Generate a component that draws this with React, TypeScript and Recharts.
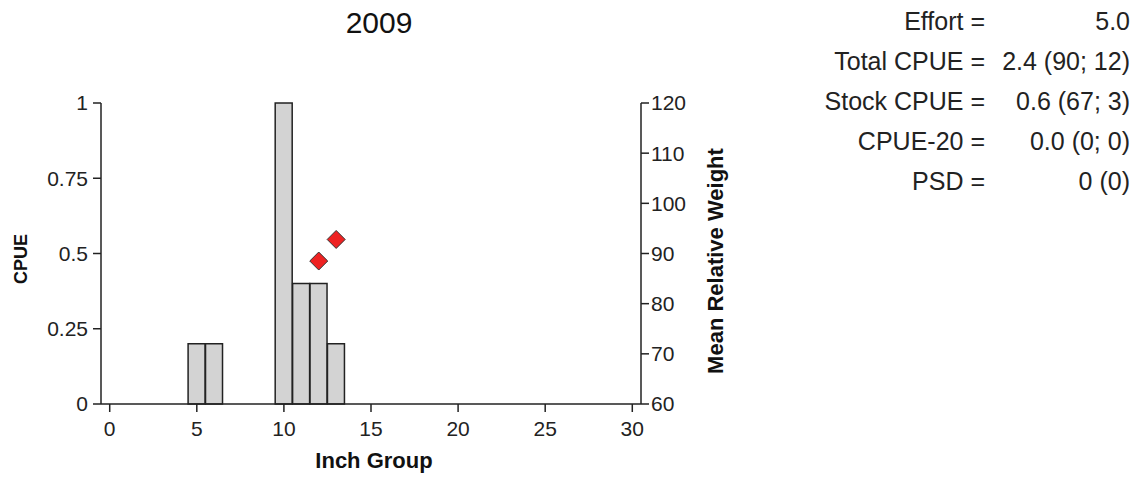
import {
  ComposedChart,
  Bar,
  Scatter,
  XAxis,
  YAxis,
} from "recharts";

const inchGroups = [5, 6, 10, 11, 12, 13];
const cpueValues = [0.2, 0.2, 1, 0.4, 0.4, 0.2];

const weightInches = [12, 13];
const weightValues = [88.5, 92.8];

const xTicks = [0, 5, 10, 15, 20, 25, 30];
const cpueTicks = [0, 0.25, 0.5, 0.75, 1];
const weightTicks = [60, 70, 80, 90, 100, 110, 120];

const statLabels = ["Effort =", "Total CPUE =", "Stock CPUE =", "CPUE-20 =", "PSD ="];
const statValues = ["5.0", "2.4 (90; 12)", "0.6 (67; 3)", "0.0 (0; 0)", "0 (0)"];

const FONT = '"Liberation Sans", Arial, sans-serif';

const barData = inchGroups.map((inch, i) => ({ inch, cpue: cpueValues[i] }));
const weightData = weightInches.map((inch, i) => ({ inch, weight: weightValues[i] }));

// square diamond marker, like the original plot
const Diamond = (props: any) => {
  const { cx, cy } = props;
  const r = 9;
  return (
    <polygon
      points={`${cx},${cy - r} ${cx + r},${cy} ${cx},${cy + r} ${cx - r},${cy}`}
      fill="#ee2222"
      stroke="#333"
      strokeWidth={1}
    />
  );
};

export default function App() {
  const tickStyle = { fontSize: 21, fill: "#222", fontFamily: FONT };

  return (
    <div
      style={{
        position: "absolute",
        left: 0,
        top: 0,
        width: 1140,
        height: 478,
        background: "#fff",
        fontFamily: FONT,
      }}
    >
      <div style={{ position: "absolute", left: 0, top: 0 }}>
        <ComposedChart
          width={760}
          height={478}
          data={barData}
          margin={{ top: 103, right: 59, bottom: 34, left: 41 }}
          barCategoryGap={0}
          barGap={0}
        >
          <XAxis
            xAxisId="x"
            type="number"
            dataKey="inch"
            domain={[-0.5, 30.5]}
            ticks={xTicks}
            height={40}
            tickSize={8}
            tickMargin={9}
            stroke="#222"
            strokeWidth={1.5}
            tick={tickStyle}
          />
          <YAxis
            yAxisId="cpue"
            domain={[0, 1]}
            ticks={cpueTicks}
            width={60}
            tickSize={8}
            tickMargin={5}
            stroke="#222"
            strokeWidth={1.5}
            tick={tickStyle}
          />
          <YAxis
            yAxisId="weight"
            orientation="right"
            domain={[60, 120]}
            ticks={weightTicks}
            width={60}
            tickSize={8}
            tickMargin={2}
            stroke="#222"
            strokeWidth={1.5}
            tick={tickStyle}
          />
          <Bar
            xAxisId="x"
            yAxisId="cpue"
            dataKey="cpue"
            fill="#d3d3d3"
            stroke="#222"
            strokeWidth={1.5}
            isAnimationActive={false}
          />
          <Scatter
            xAxisId="x"
            yAxisId="weight"
            data={weightData}
            dataKey="weight"
            shape={Diamond}
            isAnimationActive={false}
          />
        </ComposedChart>
      </div>

      <svg
        width={1140}
        height={478}
        style={{ position: "absolute", left: 0, top: 0, pointerEvents: "none" }}
      >
        <text x={379} y={33} textAnchor="middle" fontSize={30} fill="#111">
          2009
        </text>
        <text
          x={27}
          y={259}
          transform="rotate(-90 27 259)"
          textAnchor="middle"
          fontSize={18}
          fontWeight="bold"
          fill="#111"
        >
          CPUE
        </text>
        <text
          x={723}
          y={261}
          transform="rotate(-90 723 261)"
          textAnchor="middle"
          fontSize={22}
          fontWeight="bold"
          fill="#111"
        >
          Mean Relative Weight
        </text>
        <text x={374} y={468} textAnchor="middle" fontSize={22} fontWeight="bold" fill="#111">
          Inch Group
        </text>

        {statLabels.map((label, i) => (
          <g key={label}>
            <text x={985} y={30 + i * 40} textAnchor="end" fontSize={25} fill="#222">
              {label}
            </text>
            <text x={1130} y={30 + i * 40} textAnchor="end" fontSize={25} fill="#222">
              {statValues[i]}
            </text>
          </g>
        ))}
      </svg>
    </div>
  );
}
